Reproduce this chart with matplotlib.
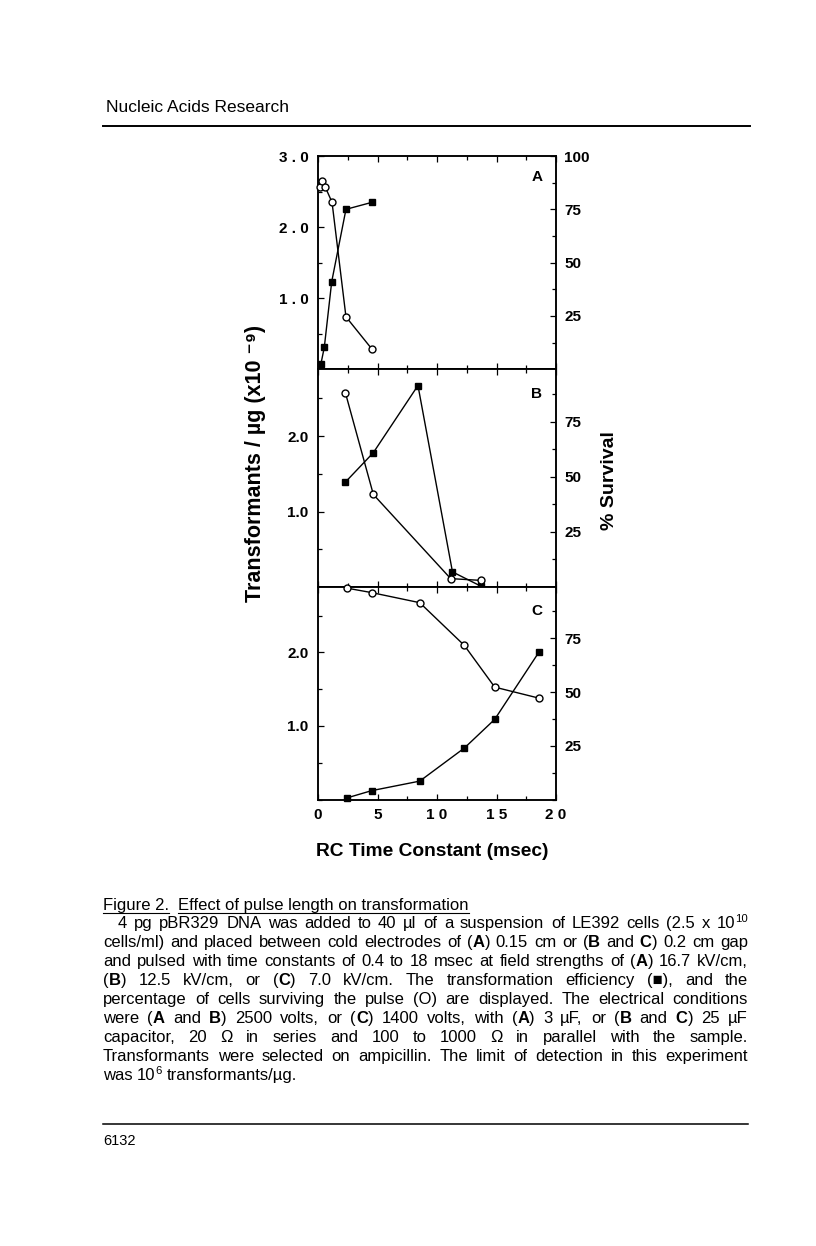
import re
import matplotlib
matplotlib.use("Agg")
import matplotlib.pyplot as plt
from matplotlib.ticker import MultipleLocator, FixedLocator
from matplotlib.transforms import IdentityTransform
from matplotlib.lines import Line2D

plt.rcParams['font.family'] = ['Liberation Sans', 'DejaVu Sans']

W, H = 816, 1246

# panel A (3 uF, 16.7 kV/cm)
a_sq_x = [0.25, 0.53, 1.15, 2.35, 4.57]
a_sq_y = [0.08, 0.31, 1.23, 2.25, 2.35]
a_ci_x = [0.13, 0.36, 0.59, 1.18, 2.35, 4.5]
a_ci_y = [85.7, 88.1, 85.7, 78.3, 24.6, 9.7]

# panel B (12.5 kV/cm)
b_sq_x = [2.3, 4.65, 8.4, 11.3, 13.7]
b_sq_y = [1.39, 1.78, 2.67, 0.2, 0.01]
b_ci_x = [2.3, 4.65, 11.15, 13.7]
b_ci_y = [88.2, 42.0, 3.8, 3.0]

# panel C (7.0 kV/cm)
c_sq_x = [2.4, 4.5, 8.55, 12.3, 14.85, 18.55]
c_sq_y = [0.02, 0.12, 0.25, 0.70, 1.09, 2.0]
c_ci_x = [2.4, 4.5, 8.55, 12.3, 14.85, 18.55]
c_ci_y = [98.4, 96.3, 91.6, 71.7, 52.3, 47.2]

x_ticks = [0, 5, 10, 15, 20]
x_ticklabels = ['0', '5', '1 0', '1 5', '2 0']
a_lticks = [1.0, 2.0, 3.0]
a_lticklabels = ['1 . 0', '2 . 0', '3 . 0']
bc_lticks = [1.0, 2.0]
bc_lticklabels = ['1.0', '2.0']
a_rticks = [25, 50, 75, 100]
bc_rticks = [25, 50, 75]

caption_title = ["Figure 2.", "Effect of pulse length on transformation"]
caption_lines = [
    "4 pg pBR329 DNA was added to 40 µl of a suspension of LE392 cells (2.5 x 10^10^",
    "cells/ml) and placed between cold electrodes of (**A**) 0.15 cm or (**B** and **C**) 0.2 cm gap",
    "and pulsed with time constants of 0.4 to 18 msec at field strengths of (**A**) 16.7 kV/cm,",
    "(**B**) 12.5 kV/cm, or (**C**) 7.0 kV/cm. The transformation efficiency (■), and the",
    "percentage of cells surviving the pulse (O) are displayed. The electrical conditions",
    "were (**A** and **B**) 2500 volts, or (**C**) 1400 volts, with (**A**) 3 µF, or (**B** and **C**) 25 µF",
    "capacitor, 20 Ω in series and 100 to 1000 Ω in parallel with the sample.",
    "Transformants were selected on ampicillin. The limit of detection in this experiment",
    "was 10^6^ transformants/µg.",
]

fig = plt.figure(figsize=(W / 100, H / 100), dpi=100)
fig.patch.set_facecolor('white')
IDT = IdentityTransform()


def px_text(x, y, s, **kw):
    return fig.text(x, H - y, s, transform=IDT, **kw)


def px_line(x0, x1, y, lw):
    fig.add_artist(Line2D([x0, x1], [H - y, H - y], transform=IDT, color='black', lw=lw))


panels = [
    (156, 369.3, (0, 3.0), (0, 100), a_sq_x, a_sq_y, a_ci_x, a_ci_y, a_lticks, a_lticklabels, a_rticks, 'A', 177),
    (369.3, 587, (0, 2.885), (0, 98.8), b_sq_x, b_sq_y, b_ci_x, b_ci_y, bc_lticks, bc_lticklabels, bc_rticks, 'B', 394),
    (587, 799.5, (0, 2.89), (0, 98.9), c_sq_x, c_sq_y, c_ci_x, c_ci_y, bc_lticks, bc_lticklabels, bc_rticks, 'C', 611),
]

x0, x1 = 318, 556
for i, (top, bot, ylim, rlim, sx, sy, cx, cy, lt, ltl, rt, letter, ly) in enumerate(panels):
    ax = fig.add_axes([x0 / W, 1 - bot / H, (x1 - x0) / W, (bot - top) / H])
    ax2 = ax.twinx()
    ax.set_xlim(0, 20)
    ax.set_ylim(*ylim)
    ax2.set_ylim(*rlim)
    ax.plot(sx, sy, color='black', lw=1.0, marker='s', ms=5, mfc='black', mec='black', clip_on=False, zorder=3)
    ax2.plot(cx, cy, color='black', lw=1.0, marker='o', ms=5, mfc='white', mec='black', mew=1.0, clip_on=False, zorder=3)

    ax.xaxis.set_major_locator(FixedLocator(x_ticks))
    ax.xaxis.set_minor_locator(MultipleLocator(2.5))
    ax.set_yticks(lt)
    ax.yaxis.set_minor_locator(MultipleLocator(0.5))
    ax2.set_yticks(rt)
    ax2.yaxis.set_minor_locator(MultipleLocator(12.5))
    if i == 2:
        ax.set_xticklabels(x_ticklabels, fontsize=11, fontweight='bold')
    else:
        ax.set_xticklabels([])
    ax.set_yticklabels(ltl, fontsize=11, fontweight='bold')
    ax2.set_yticklabels([str(v) for v in rt], fontsize=11, fontweight='bold')

    ax.tick_params(axis='x', which='both', direction='in', top=True, bottom=True, width=0.9, pad=6)
    ax.tick_params(axis='y', which='both', direction='in', left=True, right=False, width=0.9, pad=7)
    ax2.tick_params(axis='y', which='both', direction='in', width=0.9, pad=6)
    for a in (ax, ax2):
        a.tick_params(which='major', length=4.5)
        a.tick_params(which='minor', length=2.8)
        for sp in a.spines.values():
            sp.set_linewidth(1.1)
    ax2.patch.set_visible(False)
    px_text(537, ly, letter, fontsize=11, fontweight='bold', ha='center', va='center')

px_text(256, 463, "Transformants / µg (x10 ⁻⁹)", fontsize=15.5, fontweight='bold',
        rotation=90, ha='center', va='center')
px_text(610, 481, "% Survival", fontsize=14, fontweight='bold', rotation=90, ha='center', va='center')
px_text(432, 851, "RC Time Constant (msec)", fontsize=13.8, fontweight='bold', ha='center', va='center')

# page header and footer
px_text(106, 107, "Nucleic Acids Research", fontsize=12.5, ha='left', va='center')
px_line(103, 750, 126, 1.4)
px_line(103, 748, 1124, 1.1)
px_text(103, 1141, "6132", fontsize=10.5, ha='left', va='center')

# caption, justified by hand
fs = 12
r = fig.canvas.get_renderer()


def width(s, **kw):
    t = px_text(0, 0, s, **kw)
    w = t.get_window_extent(r).width
    t.remove()
    return w


def pieces(word):
    out = []
    for tok in re.split(r'(\*\*[^*]+\*\*|\^[^^]+\^)', word):
        if not tok:
            continue
        if tok.startswith('**'):
            out.append((tok[2:-2], dict(fontsize=fs, fontweight='bold'), 0))
        elif tok.startswith('^'):
            out.append((tok[1:-1], dict(fontsize=fs * 0.68), 6))
        else:
            out.append((tok, dict(fontsize=fs), 0))
    return out


space_w = width("a a", fontsize=fs) - width("aa", fontsize=fs)

tx = 103
for j, s in enumerate(caption_title):
    w = width(s, fontsize=fs)
    px_text(tx, 910, s, fontsize=fs, ha='left', va='baseline')
    px_line(tx, tx + w, 913, 0.8)
    tx += w + 2 * space_w

left, right = 103, 748
for k, line in enumerate(caption_lines):
    base = 928 + k * 19
    start = 118 if k == 0 else left
    words = [pieces(w) for w in line.split()]
    widths = [sum(width(p[0], **p[1]) for p in wd) for wd in words]
    if k == len(caption_lines) - 1:
        gap = space_w
    else:
        gap = max((right - start - sum(widths)) / (len(words) - 1), 2)
    x = start
    for wd, ww in zip(words, widths):
        xx = x
        for txt, kw, dy in wd:
            px_text(xx, base - dy, txt, ha='left', va='baseline', **kw)
            xx += width(txt, **kw)
        x += ww + gap

fig.savefig('out.png', dpi=100, facecolor='white')
